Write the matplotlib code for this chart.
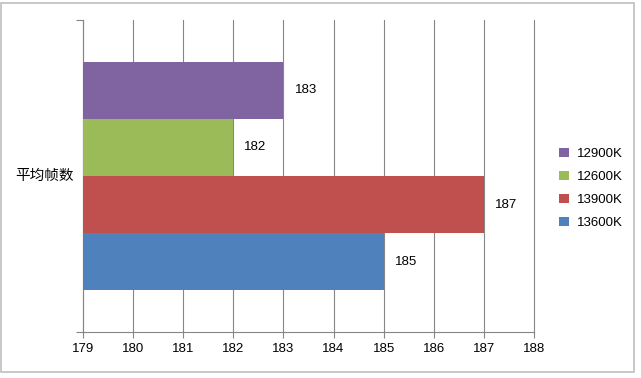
import matplotlib.pyplot as plt
from matplotlib.patches import Rectangle

plt.rcParams['font.family'] = ['Liberation Sans', 'Noto Sans CJK SC', 'DejaVu Sans']

# data
category = "平均帧数"
cpus = ["12900K", "12600K", "13900K", "13600K"]
fps = [183, 182, 187, 185]
colors = ["#8064A2", "#9BBB59", "#C0504D", "#4F81BD"]
xticks = list(range(179, 189))

fig = plt.figure(figsize=(6.41, 3.78), dpi=100)
ax = fig.add_axes([83 / 641, 1 - 332 / 378, (534 - 83) / 641, (332 - 20) / 378])

# chart border
fig.patches.append(Rectangle((1 / 641, 1 - 372 / 378), 633 / 641, 369 / 378,
                             transform=fig.transFigure, fill=False,
                             edgecolor="#BFBFBF", linewidth=1.2))

h = 0.183
offsets = [1.5 * h, 0.5 * h, -0.5 * h, -1.5 * h]
for name, val, c, off in zip(cpus, fps, colors, offsets):
    ax.barh(off, val, height=h, color=c, label=name, zorder=3)
    ax.annotate(str(val), (val, off), xytext=(8, 0), textcoords="offset points",
                va="center", ha="left", fontsize=9.5)

ax.set_xlim(179, 188)
ax.set_ylim(-0.5, 0.5)
ax.set_xticks(xticks)
ax.tick_params(axis="x", labelsize=9.5, length=4, color="#868686", pad=4)
ax.xaxis.grid(True, color="#868686", linewidth=0.8, zorder=0)
for gl in ax.get_xgridlines():
    gl.set_clip_on(False)

ax.set_yticks([-0.5, 0.5])
ax.set_yticklabels([])
ax.tick_params(axis="y", length=5, color="#868686")
ax.text(-0.02, 0.5, category, transform=ax.transAxes, ha="right", va="center", fontsize=10.5)

for s in ["top", "right"]:
    ax.spines[s].set_visible(False)
for s in ["left", "bottom"]:
    ax.spines[s].set_color("#868686")

ax.legend(loc="center left", bbox_to_anchor=(1.03, 0.46), frameon=False,
          fontsize=9.5, handlelength=0.7, handleheight=0.7, labelspacing=0.8,
          handletextpad=0.6)

fig.savefig("out.png", dpi=100)
